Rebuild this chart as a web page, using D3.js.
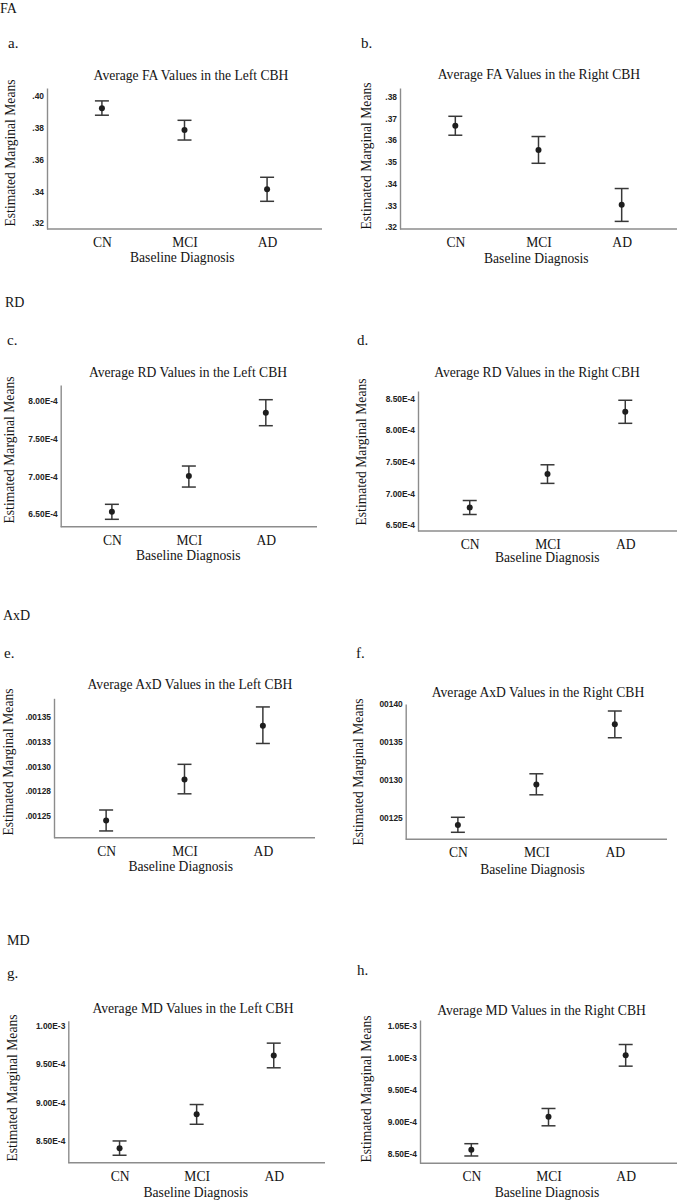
<!DOCTYPE html>
<html>
<head>
<meta charset="utf-8">
<script src="https://cdn.jsdelivr.net/npm/d3@7"></script>
<style>
  html, body { margin: 0; padding: 0; background: #fff; }
  svg { display: block; }
</style>
</head>
<body>
<svg id="chart" width="678" height="1200"></svg>
<script>
// ---------------- DATA ----------------
const categories = ["CN", "MCI", "AD"];

const sectionNames = ["FA", "RD", "AxD", "MD"];
const panelLetters = ["a.", "b.", "c.", "d.", "e.", "f.", "g.", "h."];
const panelTitles = [
  "Average FA Values in the Left CBH",
  "Average FA Values in the Right CBH",
  "Average RD Values in the Left CBH",
  "Average RD Values in the Right CBH",
  "Average AxD Values in the Left CBH",
  "Average AxD Values in the Right CBH",
  "Average MD Values in the Left CBH",
  "Average MD Values in the Right CBH"
];
const yAxisTitle = "Estimated Marginal Means";
const xAxisTitle = "Baseline Diagnosis";

// FA left
const faLeftMean = [0.3923, 0.3786, 0.3413];
const faLeftLow  = [0.3879, 0.3723, 0.3338];
const faLeftHigh = [0.3969, 0.3847, 0.3489];
const faLeftTicks = [0.32, 0.34, 0.36, 0.38, 0.40];
const faLeftTickLabels = [".32", ".34", ".36", ".38", ".40"];
const faLeftDomain = [0.3164, 0.405];

// FA right
const faRightMean = [0.3667, 0.3555, 0.3303];
const faRightLow  = [0.3623, 0.3494, 0.3227];
const faRightHigh = [0.3710, 0.3617, 0.3378];
const faRightTicks = [0.32, 0.33, 0.34, 0.35, 0.36, 0.37, 0.38];
const faRightTickLabels = [".32", ".33", ".34", ".35", ".36", ".37", ".38"];
const faRightDomain = [0.3192, 0.384];

// RD left
const rdLeftMean = [6.530e-4, 7.004e-4, 7.845e-4];
const rdLeftLow  = [6.430e-4, 6.858e-4, 7.672e-4];
const rdLeftHigh = [6.629e-4, 7.137e-4, 8.017e-4];
const rdLeftTicks = [6.5e-4, 7.0e-4, 7.5e-4, 8.0e-4];
const rdLeftTickLabels = ["6.50E-4", "7.00E-4", "7.50E-4", "8.00E-4"];
const rdLeftDomain = [6.332e-4, 8.212e-4];

// RD right
const rdRightMean = [6.780e-4, 7.306e-4, 8.289e-4];
const rdRightLow  = [6.670e-4, 7.160e-4, 8.106e-4];
const rdRightHigh = [6.890e-4, 7.453e-4, 8.469e-4];
const rdRightTicks = [6.5e-4, 7.0e-4, 7.5e-4, 8.0e-4, 8.5e-4];
const rdRightTickLabels = ["6.50E-4", "7.00E-4", "7.50E-4", "8.00E-4", "8.50E-4"];
const rdRightDomain = [6.41e-4, 8.615e-4];

// AxD left
const axdLeftMean = [0.0012453, 0.0012868, 0.0013409];
const axdLeftLow  = [0.0012349, 0.0012723, 0.0013230];
const axdLeftHigh = [0.0012560, 0.0013020, 0.0013598];
const axdLeftTicks = [0.00125, 0.001275, 0.0013, 0.001325, 0.00135];
const axdLeftTickLabels = [".00125", ".00128", ".00130", ".00133", ".00135"];
const axdLeftDomain = [0.0012281, 0.0013685];

// AxD right
const axdRightMean = [0.0012412, 0.0012943, 0.0013733];
const axdRightLow  = [0.0012316, 0.0012808, 0.0013557];
const axdRightHigh = [0.0012513, 0.0013084, 0.0013908];
const axdRightTicks = [0.00125, 0.0013, 0.00135, 0.0014];
const axdRightTickLabels = ["00125", "00130", "00135", "00140"];
const axdRightDomain = [0.0012224, 0.0014];

// MD left
const mdLeftMean = [8.405e-4, 8.848e-4, 9.613e-4];
const mdLeftLow  = [8.314e-4, 8.717e-4, 9.452e-4];
const mdLeftHigh = [8.500e-4, 8.974e-4, 9.773e-4];
const mdLeftTicks = [8.5e-4, 9.0e-4, 9.5e-4, 1.0e-3];
const mdLeftTickLabels = ["8.50E-4", "9.00E-4", "9.50E-4", "1.00E-3"];
const mdLeftDomain = [8.217e-4, 10.065e-4];

// MD right
const mdRightMean = [8.557e-4, 9.074e-4, 10.042e-4];
const mdRightLow  = [8.458e-4, 8.932e-4, 9.869e-4];
const mdRightHigh = [8.651e-4, 9.204e-4, 10.209e-4];
const mdRightTicks = [8.5e-4, 9.0e-4, 9.5e-4, 1.0e-3, 1.05e-3];
const mdRightTickLabels = ["8.50E-4", "9.00E-4", "9.50E-4", "1.00E-3", "1.05E-3"];
const mdRightDomain = [8.343e-4, 10.594e-4];

// ---------------- LAYOUT ----------------
const sectionLayout = [
  { x: 0, y: 12.5 }, { x: 5, y: 307 }, { x: 3, y: 620 }, { x: 7, y: 945 }
];

const panelLayout = [
  { lx: 8,   ly: 48,  left: 47,    right: 322, top: 88,     bottom: 229,    tx: 191,   ty: 80,   yx: 14.5,  yy: 153,  bx: 182.3, by: 261.7 },
  { lx: 361, ly: 48,  left: 400,   right: 677, top: 88,     bottom: 229,    tx: 539,   ty: 79,   yx: 370.7, yy: 156,  bx: 536.3, by: 263.3 },
  { lx: 7,   ly: 345, left: 60.7,  right: 317, top: 385,    bottom: 526.7,  tx: 188,   ty: 377,  yx: 14,    yy: 450,  bx: 188.3, by: 560 },
  { lx: 357, ly: 345, left: 418,   right: 677, top: 391,    bottom: 531,    tx: 537,   ty: 377,  yx: 366.3, yy: 452,  bx: 547.3, by: 562.3 },
  { lx: 4,   ly: 658, left: 54,    right: 315, top: 698.3,  bottom: 837.7,  tx: 190,   ty: 689,  yx: 12.8,  yy: 762,  bx: 180.7, by: 871 },
  { lx: 356, ly: 658, left: 405.7, right: 667, top: 704,    bottom: 839.3,  tx: 538,   ty: 697,  yx: 363,   yy: 772,  bx: 532.5, by: 874 },
  { lx: 7,   ly: 978, left: 68.3,  right: 325, top: 1020.7, bottom: 1162.7, tx: 193,   ty: 1013, yx: 16.7,  yy: 1088, bx: 195.8, by: 1196.7 },
  { lx: 357, ly: 975, left: 420,   right: 677, top: 1020,   bottom: 1163.3, tx: 541.5, ty: 1015, yx: 370.7, yy: 1089, bx: 547,   by: 1196.7 }
];

const panelData = [
  { mean: faLeftMean,   low: faLeftLow,   high: faLeftHigh,   ticks: faLeftTicks,   labels: faLeftTickLabels,   domain: faLeftDomain },
  { mean: faRightMean,  low: faRightLow,  high: faRightHigh,  ticks: faRightTicks,  labels: faRightTickLabels,  domain: faRightDomain },
  { mean: rdLeftMean,   low: rdLeftLow,   high: rdLeftHigh,   ticks: rdLeftTicks,   labels: rdLeftTickLabels,   domain: rdLeftDomain },
  { mean: rdRightMean,  low: rdRightLow,  high: rdRightHigh,  ticks: rdRightTicks,  labels: rdRightTickLabels,  domain: rdRightDomain },
  { mean: axdLeftMean,  low: axdLeftLow,  high: axdLeftHigh,  ticks: axdLeftTicks,  labels: axdLeftTickLabels,  domain: axdLeftDomain },
  { mean: axdRightMean, low: axdRightLow, high: axdRightHigh, ticks: axdRightTicks, labels: axdRightTickLabels, domain: axdRightDomain },
  { mean: mdLeftMean,   low: mdLeftLow,   high: mdLeftHigh,   ticks: mdLeftTicks,   labels: mdLeftTickLabels,   domain: mdLeftDomain },
  { mean: mdRightMean,  low: mdRightLow,  high: mdRightHigh,  ticks: mdRightTicks,  labels: mdRightTickLabels,  domain: mdRightDomain }
];

// ---------------- STYLE ----------------
const SERIF = "'Liberation Serif', 'Times New Roman', serif";
const SANS = "'Liberation Sans', Arial, sans-serif";
const TEXT_COLOR = "#141414";
const AXIS_COLOR = "#8c8c8c";
const BAR_COLOR = "#383838";
const DOT_COLOR = "#1e1e1e";
const CAP_HALF = 7;

// ---------------- DRAW ----------------
const svg = d3.select("#chart");

svg.selectAll("text.section")
  .data(sectionNames)
  .join("text")
  .attr("class", "section")
  .attr("x", (d, i) => sectionLayout[i].x)
  .attr("y", (d, i) => sectionLayout[i].y)
  .attr("font-family", SERIF)
  .attr("font-size", 14)
  .attr("fill", TEXT_COLOR)
  .text(d => d);

panelData.forEach((pd, i) => {
  const L = panelLayout[i];
  const g = svg.append("g");

  const x = d3.scalePoint().domain(categories).range([L.left, L.right]).padding(0.665);
  const y = d3.scaleLinear().domain(pd.domain).range([L.bottom, L.top]);

  // panel letter
  g.append("text")
    .attr("x", L.lx).attr("y", L.ly)
    .attr("font-family", SERIF).attr("font-size", 15)
    .attr("fill", TEXT_COLOR)
    .text(panelLetters[i]);

  // title
  g.append("text")
    .attr("x", L.tx).attr("y", L.ty)
    .attr("text-anchor", "middle")
    .attr("font-family", SERIF).attr("font-size", 13.6)
    .attr("fill", TEXT_COLOR)
    .text(panelTitles[i]);

  // y axis
  const yAxis = d3.axisLeft(y)
    .tickValues(pd.ticks)
    .tickFormat((d, j) => pd.labels[j])
    .tickSize(0)
    .tickPadding(3);
  const yg = g.append("g")
    .attr("transform", `translate(${L.left},0)`)
    .call(yAxis);
  yg.select(".domain").attr("stroke", AXIS_COLOR).attr("stroke-width", 1.4);
  yg.selectAll("text")
    .attr("font-family", SANS).attr("font-size", 8.4)
    .attr("font-weight", "bold").attr("fill", "#222");

  // x axis
  const xAxis = d3.axisBottom(x).tickSize(0).tickPadding(8.4);
  const xg = g.append("g")
    .attr("transform", `translate(0,${L.bottom})`)
    .call(xAxis);
  xg.select(".domain")
    .attr("d", `M${L.left},0H${L.right}`)
    .attr("stroke", AXIS_COLOR).attr("stroke-width", 1.4);
  xg.selectAll("text")
    .attr("font-family", SERIF).attr("font-size", 13.6)
    .attr("fill", TEXT_COLOR);

  // axis titles
  g.append("text")
    .attr("transform", `translate(${L.yx},${L.yy}) rotate(-90)`)
    .attr("text-anchor", "middle")
    .attr("font-family", SERIF).attr("font-size", 13.6)
    .attr("fill", TEXT_COLOR)
    .text(yAxisTitle);

  g.append("text")
    .attr("x", L.bx).attr("y", L.by)
    .attr("text-anchor", "middle")
    .attr("font-family", SERIF).attr("font-size", 13.6)
    .attr("fill", TEXT_COLOR)
    .text(xAxisTitle);

  // error bars
  const rows = categories.map((c, j) => ({ c, m: pd.mean[j], lo: pd.low[j], hi: pd.high[j] }));
  const eb = g.append("g").attr("stroke", BAR_COLOR).attr("stroke-width", 1.5).attr("fill", "none");
  eb.selectAll("line.v").data(rows).join("line").attr("class", "v")
    .attr("x1", d => x(d.c)).attr("x2", d => x(d.c))
    .attr("y1", d => y(d.lo)).attr("y2", d => y(d.hi));
  eb.selectAll("line.t").data(rows).join("line").attr("class", "t")
    .attr("x1", d => x(d.c) - CAP_HALF).attr("x2", d => x(d.c) + CAP_HALF)
    .attr("y1", d => y(d.hi)).attr("y2", d => y(d.hi));
  eb.selectAll("line.b").data(rows).join("line").attr("class", "b")
    .attr("x1", d => x(d.c) - CAP_HALF).attr("x2", d => x(d.c) + CAP_HALF)
    .attr("y1", d => y(d.lo)).attr("y2", d => y(d.lo));

  g.selectAll("circle.pt").data(rows).join("circle").attr("class", "pt")
    .attr("cx", d => x(d.c)).attr("cy", d => y(d.m))
    .attr("r", 3).attr("fill", DOT_COLOR);
});
</script>
</body>
</html>
